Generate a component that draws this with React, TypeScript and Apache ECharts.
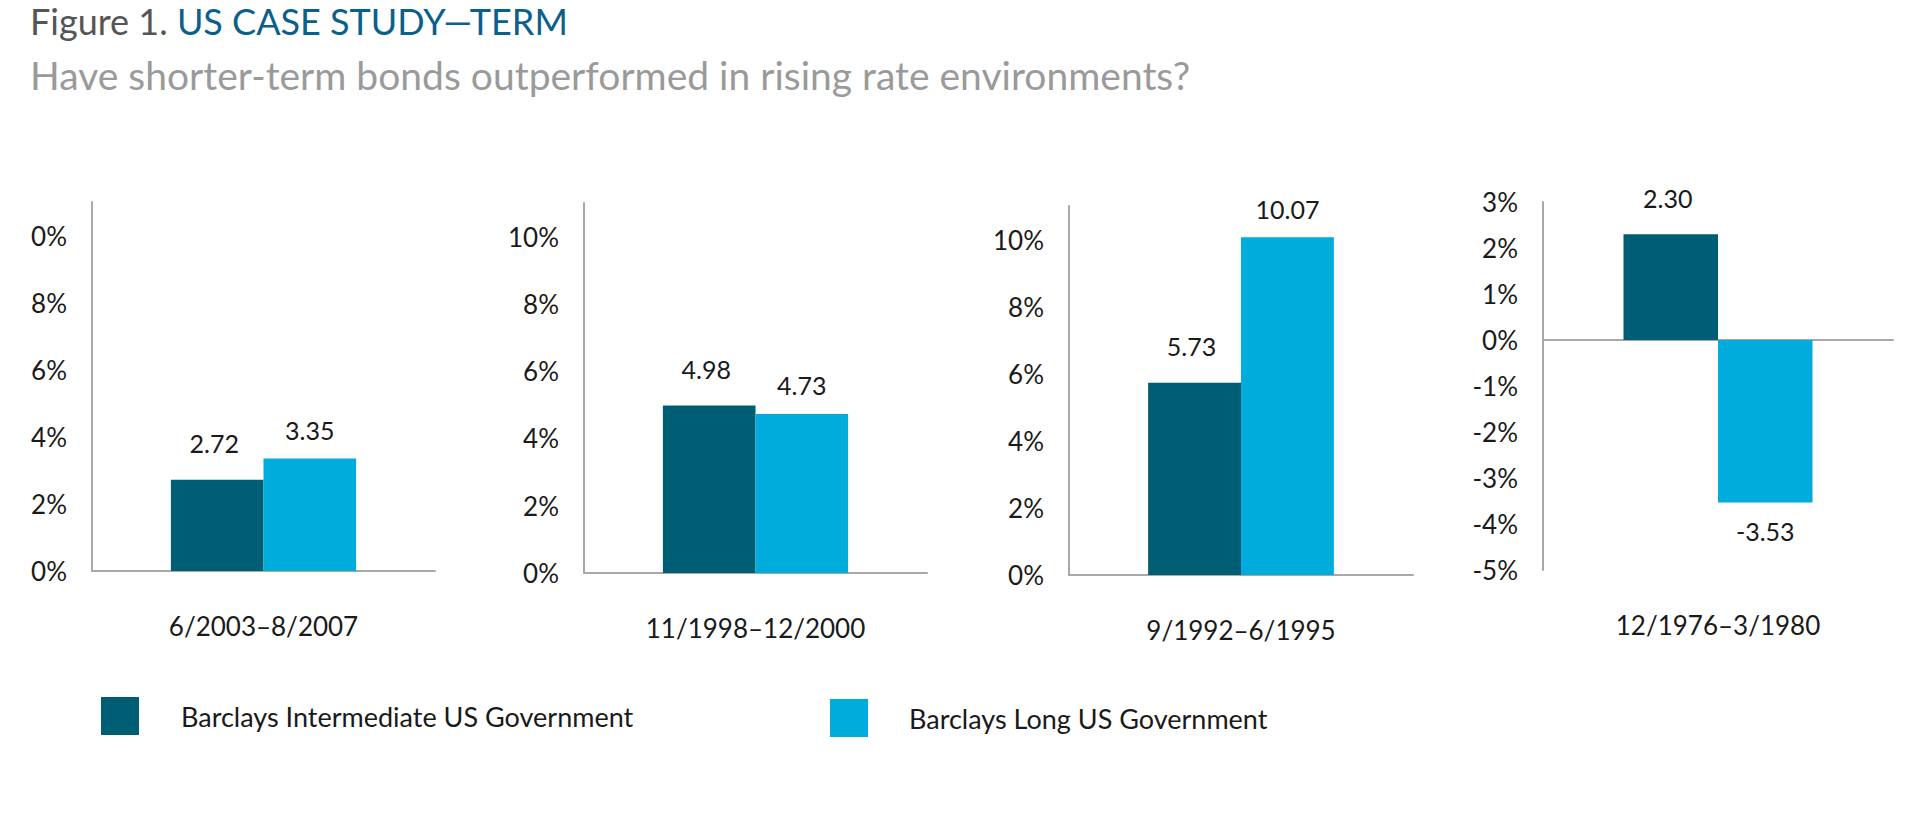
import React, { useEffect, useRef } from "react";
import * as echarts from "echarts";

const categories = ["6/2003–8/2007", "11/1998–12/2000", "9/1992–6/1995", "12/1976–3/1980"];
const seriesNames = ["Barclays Intermediate US Government", "Barclays Long US Government"];
const intermediate = [2.72, 4.98, 5.73, 2.3];
const longGov = [3.35, 4.73, 10.07, -3.53];
const yTickLabels = [
  ["0%", "2%", "4%", "6%", "8%", "0%"],
  ["0%", "2%", "4%", "6%", "8%", "10%"],
  ["0%", "2%", "4%", "6%", "8%", "10%"],
  ["-5%", "-4%", "-3%", "-2%", "-1%", "0%", "1%", "2%", "3%"],
];
const yMin = [0, 0, 0, -5];
const yMax = [11, 11, 11, 3];
const yInterval = [2, 2, 2, 1];

const FONT = "Lato";
const DARK = "#005e74";
const LIGHT = "#00acdc";
const AXIS = "#a8a8a8";

const grids = [
  { left: 92, top: 202, width: 343, height: 369 },
  { left: 584, top: 203, width: 343, height: 370 },
  { left: 1069, top: 206, width: 344, height: 369 },
  { left: 1543, top: 202, width: 350, height: 368 },
];

export default function App() {
  const ref = useRef<HTMLDivElement>(null);
  useEffect(() => {
    document.body.style.margin = "0";
    if (!ref.current) return;
    const chart = echarts.init(ref.current, null, { renderer: "svg" });
    const xAxis: any[] = [];
    const yAxis: any[] = [];
    const series: any[] = [];
    grids.forEach((_, i) => {
      xAxis.push({
        type: "category",
        gridIndex: i,
        data: [categories[i]],
        axisLine: { show: true, onZero: true, lineStyle: { color: AXIS, width: 2 } },
        axisTick: { show: false },
        axisLabel: { show: false },
      });
      yAxis.push({
        type: "value",
        gridIndex: i,
        min: yMin[i],
        max: yMax[i],
        interval: yInterval[i],
        axisLine: { show: true, lineStyle: { color: AXIS, width: 2 } },
        axisTick: { show: false },
        splitLine: { show: false },
        axisLabel: {
          margin: 25,
          showMaxLabel: yMax[i] % yInterval[i] === 0,
          fontSize: 26,
          fontFamily: FONT,
          color: "#1a1a1a",
          formatter: (v: number) => yTickLabels[i][Math.round((v - yMin[i]) / yInterval[i])] ?? "",
        },
      });
    });
    grids.forEach((_, i) => {
      xAxis.push({
        type: "category",
        gridIndex: i,
        position: "bottom",
        data: [categories[i]],
        axisLine: { show: false, onZero: false },
        axisTick: { show: false },
        axisLabel: { margin: 42, fontSize: 26, fontFamily: FONT, color: "#1a1a1a" },
      });
    });
    grids.forEach((_, i) => {
      [intermediate, longGov].forEach((arr, s) => {
        const v = arr[i];
        series.push({
          type: "bar",
          name: seriesNames[s],
          xAxisIndex: i,
          yAxisIndex: i,
          barWidth: "27%",
          barGap: "0%",
          itemStyle: { color: s === 0 ? DARK : LIGHT },
          label: {
            show: true,
            position: "top",
            distance: s === 0 ? 24 : 16,
            offset: s === 0 ? [-3, 0] : [0, 0],
            fontSize: 25,
            fontFamily: FONT,
            color: "#1a1a1a",
            formatter: (p: any) => Number(p.value).toFixed(2),
          },
          data: [v < 0 ? { value: v, label: { position: "bottom" } } : v],
        });
      });
    });
    chart.setOption({
      animation: false,
      backgroundColor: "#ffffff",
      title: [
        {
          text: "{a|Figure 1. }{b|US CASE STUDY—TERM}",
          left: 25,
          top: -2,
          textStyle: {
            rich: {
              a: { fontSize: 36, color: "#555555", fontFamily: FONT, fontWeight: "normal" },
              b: { fontSize: 36, color: "#0b5f8a", fontFamily: FONT, fontWeight: "normal" },
            },
          },
        },
        {
          text: "Have shorter-term bonds outperformed in rising rate environments?",
          left: 25,
          top: 50,
          textStyle: { fontSize: 39, color: "#9a9a9a", fontFamily: FONT, fontWeight: "normal" },
        },
      ],
      legend: [
        {
          data: [seriesNames[0]],
          left: 101,
          top: 697,
          padding: 0,
          itemWidth: 38,
          itemHeight: 38,
          icon: "rect",
          selectedMode: false,
          textStyle: { fontSize: 27, fontFamily: FONT, color: "#1a1a1a", padding: [0, 0, 0, 37] },
        },
        {
          data: [seriesNames[1]],
          left: 830,
          top: 699,
          padding: 0,
          itemWidth: 38,
          itemHeight: 38,
          icon: "rect",
          selectedMode: false,
          textStyle: { fontSize: 27, fontFamily: FONT, color: "#1a1a1a", padding: [0, 0, 0, 36] },
        },
      ],
      grid: grids.map((g) => ({ ...g, containLabel: false })),
      xAxis,
      yAxis,
      series,
    });
    return () => chart.dispose();
  }, []);
  return <div ref={ref} style={{ width: 1932, height: 826 }} />;
}
